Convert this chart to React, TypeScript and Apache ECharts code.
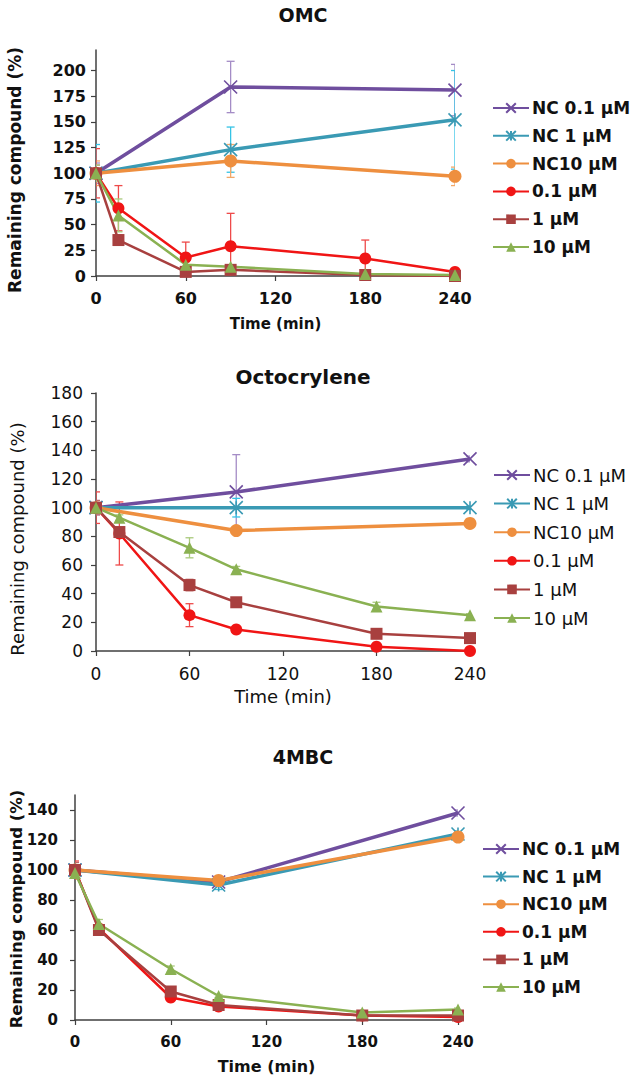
import React, { useEffect, useRef } from "react";
import * as echarts from "echarts";

// ---------- data ----------
const times = [0, 15, 60, 90, 180, 240];
const ncTimes = [0, 90, 240];
const seriesNames = ["NC 0.1 μM", "NC 1 μM", "NC10 μM", "0.1 μM", "1 μM", "10 μM"];

// OMC
const omcNC01 = [100, 184, 181];
const omcNC1 = [100, 123, 152];
const omcNC10 = [100, 112, 97];
const omc01 = [100, 66, 18, 29, 17, 4];
const omc1 = [100, 35, 4, 6, 1, 0];
const omc10 = [100, 59, 11, 9, 2, 1];
const omcNC01Err = [10, 25, 25];
const omcNC1Err = [28, 22, 48];
const omcNC10Err = [12, 16, 9];
const omc01Err = [24, 22, 15, 32, 18, 2];
const omc1Err = [8, 5, 2, 2, 1, 0];
const omc10Err = [8, 16, 3, 2, 1, 1];

// Octocrylene
const octNC01 = [100, 111, 134];
const octNC1 = [100, 100, 100];
const octNC10 = [100, 84, 89];
const oct01 = [100, 82, 25, 15, 3, 0];
const oct1 = [100, 83, 46, 34, 12, 9];
const oct10 = [100, 93, 72, 57, 31, 25];
const octNC01Err = [5, 26, 2];
const octNC1Err = [3, 6.5, 1];
const octNC10Err = [3, 2, 3];
const oct01Err = [11, 22, 8, 1, 1, 0];
const oct1Err = [5, 3, 4, 2, 2, 1];
const oct10Err = [3, 2, 7, 2, 3, 1];

// 4MBC
const mbcNC01 = [100, 92, 138];
const mbcNC1 = [100, 90, 124];
const mbcNC10 = [100, 93, 122];
const mbc01 = [100, 61, 15, 9, 3, 2];
const mbc1 = [100, 60, 19, 10, 3, 3];
const mbc10 = [98, 64, 34, 16, 5, 7];
const mbcNC01Err = [3, 2, 2];
const mbcNC1Err = [3, 3, 2];
const mbcNC10Err = [3, 2, 2];
const mbc01Err = [6, 2, 1, 1, 1, 1];
const mbc1Err = [5, 2, 2, 1, 1, 1];
const mbc10Err = [3, 3, 2, 1, 1, 1];

const xTicks = [0, 60, 120, 180, 240];

// ---------- styles ----------
const colors = ["#6F4E9E", "#3A9AB4", "#EE8F3F", "#F01515", "#A8403F", "#8AB152"];
const errColors = ["#A48CC6", "#35C3E6", "#F2A868", "#EE4A4A", "#C06A68", "#A9C97C"];
const X_SYM = "path://M0,0L10,10M10,0L0,10";
const STAR_SYM = "path://M0,0L10,10M10,0L0,10M5,0L5,10";
const symbols = [X_SYM, STAR_SYM, "circle", "circle", "rect", "triangle"];
const symbolSizes = [13, 13, 13, 12, 12, 12];
const FONT = "DejaVu Sans";

type Panel = {
  title: string;
  titleX: number;
  titleY: number;
  titleSize: number;
  titleWeight: string;
  grid: { left: number; top: number; width: number; height: number };
  yMax: number;
  yInterval: number;
  weight: string;
  tickSize: number;
  xLabelMargin: number;
  yLabelMargin: number;
  xName: { size: number; gap: number };
  yName: { x: number; y: number; size: number };
  legend: { left: number; top: number; gap: number; size: number };
  ncVals: number[][];
  ncErrs: number[][];
  vals: number[][];
  errs: number[][];
  ncWidth: number;
  width: number;
};

const panels: Panel[] = [
  {
    title: "OMC", titleX: 303, titleY: 15, titleSize: 19, titleWeight: "bold",
    grid: { left: 96, top: 50, width: 359, height: 226 },
    yMax: 220, yInterval: 25, weight: "bold", tickSize: 16,
    xLabelMargin: 14, yLabelMargin: 10,
    xName: { size: 15, gap: 40 },
    yName: { x: 15, y: 170, size: 17 },
    legend: { left: 492, top: 98, gap: 7.8, size: 17 },
    ncVals: [omcNC01, omcNC1, omcNC10], ncErrs: [omcNC01Err, omcNC1Err, omcNC10Err],
    vals: [omc01, omc1, omc10], errs: [omc01Err, omc1Err, omc10Err],
    ncWidth: 3.5, width: 2.5,
  },
  {
    title: "Octocrylene", titleX: 303, titleY: 37, titleSize: 20, titleWeight: "bold",
    grid: { left: 96, top: 53, width: 374, height: 259 },
    yMax: 180, yInterval: 20, weight: "normal", tickSize: 17,
    xLabelMargin: 14, yLabelMargin: 13,
    xName: { size: 18, gap: 36 },
    yName: { x: 17, y: 199, size: 18 },
    legend: { left: 493, top: 125, gap: 8.6, size: 18 },
    ncVals: [octNC01, octNC1, octNC10], ncErrs: [octNC01Err, octNC1Err, octNC10Err],
    vals: [oct01, oct1, oct10], errs: [oct01Err, oct1Err, oct10Err],
    ncWidth: 3.5, width: 2.5,
  },
  {
    title: "4MBC", titleX: 303, titleY: 47, titleSize: 19, titleWeight: "bold",
    grid: { left: 75, top: 85, width: 383, height: 225 },
    yMax: 150, yInterval: 20, weight: "bold", tickSize: 15,
    xLabelMargin: 14, yLabelMargin: 17,
    xName: { size: 16, gap: 38 },
    yName: { x: 16, y: 199, size: 16.5 },
    legend: { left: 482, top: 129, gap: 7.6, size: 17 },
    ncVals: [mbcNC01, mbcNC1, mbcNC10], ncErrs: [mbcNC01Err, mbcNC1Err, mbcNC10Err],
    vals: [mbc01, mbc1, mbc10], errs: [mbc01Err, mbc1Err, mbc10Err],
    ncWidth: 3.5, width: 2.5,
  },
];

function errorSeries(xs: number[], v: number[], e: number[], color: string) {
  return {
    type: "custom",
    name: "err",
    silent: true,
    clip: true,
    z: 1,
    encode: { x: 0, y: [1, 2] },
    data: xs.map((t, i) => [t, v[i] - e[i], v[i] + e[i]]),
    renderItem: (_p: any, api: any) => {
      const x = api.value(0);
      const lo = api.coord([x, api.value(1)]);
      const hi = api.coord([x, api.value(2)]);
      const w = 4;
      const style = { stroke: color, lineWidth: 1.3 };
      return {
        type: "group",
        children: [
          { type: "line", shape: { x1: lo[0], y1: lo[1], x2: hi[0], y2: hi[1] }, style },
          { type: "line", shape: { x1: lo[0] - w, y1: lo[1], x2: lo[0] + w, y2: lo[1] }, style },
          { type: "line", shape: { x1: hi[0] - w, y1: hi[1], x2: hi[0] + w, y2: hi[1] }, style },
        ],
      };
    },
  };
}

function buildOption(p: Panel) {
  const yTicks: number[] = [];
  for (let v = 0; v <= p.yMax; v += p.yInterval) yTicks.push(v);
  const axisColor = "#404040";
  const allVals = [...p.ncVals, ...p.vals];
  const allErrs = [...p.ncErrs, ...p.errs];
  const lines = allVals.map((vals, k) => {
    const xs = k < 3 ? ncTimes : times;
    const isPath = k < 2;
    return {
      type: "line",
      name: seriesNames[k],
      z: 3 + (k < 3 ? 0 : 1),
      data: xs.map((t, i) => [t, vals[i]]),
      symbol: symbols[k],
      symbolSize: symbolSizes[k],
      showSymbol: true,
      lineStyle: { color: colors[k], width: k < 3 ? p.ncWidth : p.width },
      itemStyle: {
        color: colors[k],
        borderColor: colors[k],
        borderWidth: isPath ? 1.6 : 0,
        opacity: 1,
      },
      emphasis: { disabled: true },
    };
  });
  const errs = allVals.map((vals, k) =>
    errorSeries(k < 3 ? ncTimes : times, vals, allErrs[k], errColors[k])
  );
  return {
    animation: false,
    grid: { ...p.grid, containLabel: false },
    xAxis: {
      type: "value",
      min: 0,
      max: 240,
      interval: 60,
      name: "Time (min)",
      nameLocation: "middle",
      nameGap: p.xName.gap,
      nameTextStyle: { fontFamily: FONT, fontWeight: p.weight, fontSize: p.xName.size, color: "#111" },
      axisLine: { onZero: false, lineStyle: { color: axisColor, width: 1.5 } },
      axisTick: { show: true, length: 5, inside: false, lineStyle: { color: axisColor, width: 1.2 }, customValues: xTicks },
      axisLabel: { margin: p.xLabelMargin, fontFamily: FONT, fontWeight: p.weight, fontSize: p.tickSize, color: "#111", customValues: xTicks },
      splitLine: { show: false },
    },
    yAxis: {
      type: "value",
      min: 0,
      max: p.yMax,
      interval: p.yInterval,
      axisLine: { show: true, lineStyle: { color: axisColor, width: 1.5 } },
      axisTick: { show: true, length: 5, inside: false, lineStyle: { color: axisColor, width: 1.2 }, customValues: yTicks },
      axisLabel: { margin: p.yLabelMargin, fontFamily: FONT, fontWeight: p.weight, fontSize: p.tickSize, color: "#111", customValues: yTicks },
      splitLine: { show: false },
    },
    legend: {
      orient: "vertical",
      left: p.legend.left,
      top: p.legend.top,
      itemGap: p.legend.gap,
      itemWidth: 36,
      itemHeight: 12,
      padding: 0,
      selectedMode: false,
      data: seriesNames,
      textStyle: { fontFamily: FONT, fontWeight: p.weight, fontSize: p.legend.size, color: "#111", lineHeight: 20, padding: [0, 0, 0, -2] },
    },
    graphic: [
      {
        type: "text",
        x: p.titleX,
        y: p.titleY,
        style: {
          text: p.title,
          textAlign: "center",
          textVerticalAlign: "middle",
          fontFamily: FONT,
          fontWeight: p.titleWeight,
          fontSize: p.titleSize,
          fill: "#111",
        },
      },
      {
        type: "text",
        x: p.yName.x,
        y: p.yName.y,
        rotation: Math.PI / 2,
        style: {
          text: "Remaining compound (%)",
          textAlign: "center",
          textVerticalAlign: "middle",
          fontFamily: FONT,
          fontWeight: p.weight,
          fontSize: p.yName.size,
          fill: "#111",
        },
      },
    ],
    series: [...errs, ...lines],
  };
}

function ChartPanel({ panel, top, height }: { panel: Panel; top: number; height: number }) {
  const ref = useRef<HTMLDivElement>(null);
  useEffect(() => {
    if (!ref.current) return;
    const chart = echarts.init(ref.current, undefined, { renderer: "svg" });
    chart.setOption(buildOption(panel) as any);
    return () => chart.dispose();
  }, [panel]);
  return (
    <div
      ref={ref}
      style={{ position: "absolute", left: 0, top, width: 633, height }}
    />
  );
}

export default function App() {
  return (
    <div style={{ position: "fixed", left: 0, top: 0, width: 633, height: 1080, background: "#fff", overflow: "hidden" }}>
      <ChartPanel panel={panels[0]} top={0} height={340} />
      <ChartPanel panel={panels[1]} top={340} height={370} />
      <ChartPanel panel={panels[2]} top={710} height={370} />
    </div>
  );
}
